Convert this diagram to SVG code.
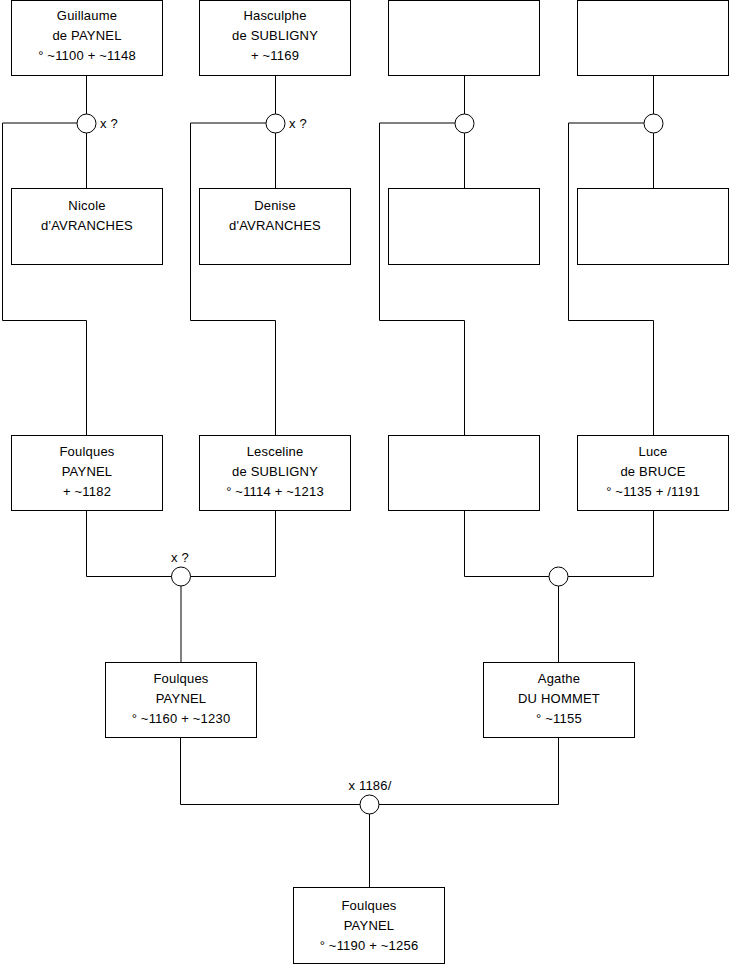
<svg xmlns="http://www.w3.org/2000/svg" width="740" height="975" viewBox="0 0 740 975">
<style>
.b{fill:#fff;stroke:#000;stroke-width:1}
.c{fill:#fff;stroke:#000;stroke-width:1}
.l{fill:none;stroke:#000;stroke-width:1}
text{font-family:"Liberation Sans",Arial,sans-serif;font-size:13px;letter-spacing:0.2px;fill:#000;text-anchor:middle}
.s{text-anchor:start}
</style>
<rect width="740" height="975" fill="#fff"/>
<g id="connectors">
<path class="l" d="M86.5 76V114M86.5 133V188M77 123H2.5V320.5H86.5V435"/>
<path class="l" d="M275.5 76V114M275.5 133V188M266 123H190.5V320.5H275.5V435"/>
<path class="l" d="M464.5 76V114M464.5 133V188M455 123H379.5V320.5H464.5V435"/>
<path class="l" d="M653.5 76V114M653.5 133V188M644 123H568.5V320.5H653.5V435"/>
<path class="l" d="M86.5 510V576.5H275.5V510M181 586V662"/>
<path class="l" d="M464.5 510V576.5H653.5V510M558.5 586V662"/>
<path class="l" d="M180.5 737V804.5H558.5V737M369.5 814V887"/>
</g>
<g id="u1"><circle class="c" cx="86.5" cy="123.5" r="9.5"/><text class="s" x="100" y="128">x ?</text></g>
<g id="u2"><circle class="c" cx="275.5" cy="123.5" r="9.5"/><text class="s" x="289" y="128">x ?</text></g>
<g id="u3"><circle class="c" cx="464.5" cy="123.5" r="9.5"/></g>
<g id="u4"><circle class="c" cx="653.5" cy="123.5" r="9.5"/></g>
<g id="u5"><circle class="c" cx="181" cy="576.5" r="9.5"/><text x="180" y="562">x ?</text></g>
<g id="u6"><circle class="c" cx="558.5" cy="576.5" r="9.5"/></g>
<g id="u7"><circle class="c" cx="369.5" cy="804.5" r="9.5"/><text x="370" y="790">x 1186/</text></g>
<g id="guillaume"><rect class="b" x="11.5" y="0.5" width="151" height="75"/><text x="87" y="20">Guillaume</text><text x="87" y="40">de PAYNEL</text><text x="87" y="60">° ~1100 + ~1148</text></g>
<g id="hasculphe"><rect class="b" x="199.5" y="0.5" width="151" height="75"/><text x="275" y="20">Hasculphe</text><text x="275" y="40">de SUBLIGNY</text><text x="275" y="60">+ ~1169</text></g>
<g id="blank1"><rect class="b" x="388.5" y="0.5" width="151" height="75"/></g>
<g id="blank2"><rect class="b" x="577.5" y="0.5" width="151" height="75"/></g>
<g id="nicole"><rect class="b" x="11.5" y="188.5" width="151" height="76"/><text x="87" y="210">Nicole</text><text x="87" y="230">d'AVRANCHES</text></g>
<g id="denise"><rect class="b" x="199.5" y="188.5" width="151" height="76"/><text x="275" y="210">Denise</text><text x="275" y="230">d'AVRANCHES</text></g>
<g id="blank3"><rect class="b" x="388.5" y="188.5" width="151" height="76"/></g>
<g id="blank4"><rect class="b" x="577.5" y="188.5" width="151" height="76"/></g>
<g id="foulques1"><rect class="b" x="11.5" y="435.5" width="151" height="75"/><text x="87" y="456">Foulques</text><text x="87" y="476">PAYNEL</text><text x="87" y="496">+ ~1182</text></g>
<g id="lesceline"><rect class="b" x="199.5" y="435.5" width="151" height="75"/><text x="275" y="456">Lesceline</text><text x="275" y="476">de SUBLIGNY</text><text x="275" y="496">° ~1114 + ~1213</text></g>
<g id="blank5"><rect class="b" x="388.5" y="435.5" width="151" height="75"/></g>
<g id="luce"><rect class="b" x="577.5" y="435.5" width="151" height="75"/><text x="653" y="456">Luce</text><text x="653" y="476">de BRUCE</text><text x="653" y="496">° ~1135 + /1191</text></g>
<g id="foulques2"><rect class="b" x="105.5" y="662.5" width="151" height="75"/><text x="181" y="683">Foulques</text><text x="181" y="703">PAYNEL</text><text x="181" y="723">° ~1160 + ~1230</text></g>
<g id="agathe"><rect class="b" x="483.5" y="662.5" width="151" height="75"/><text x="559" y="683">Agathe</text><text x="559" y="703">DU HOMMET</text><text x="559" y="723">° ~1155</text></g>
<g id="foulques3"><rect class="b" x="293.5" y="887.5" width="151" height="76"/><text x="369" y="910">Foulques</text><text x="369" y="930">PAYNEL</text><text x="369" y="950">° ~1190 + ~1256</text></g>
</svg>
